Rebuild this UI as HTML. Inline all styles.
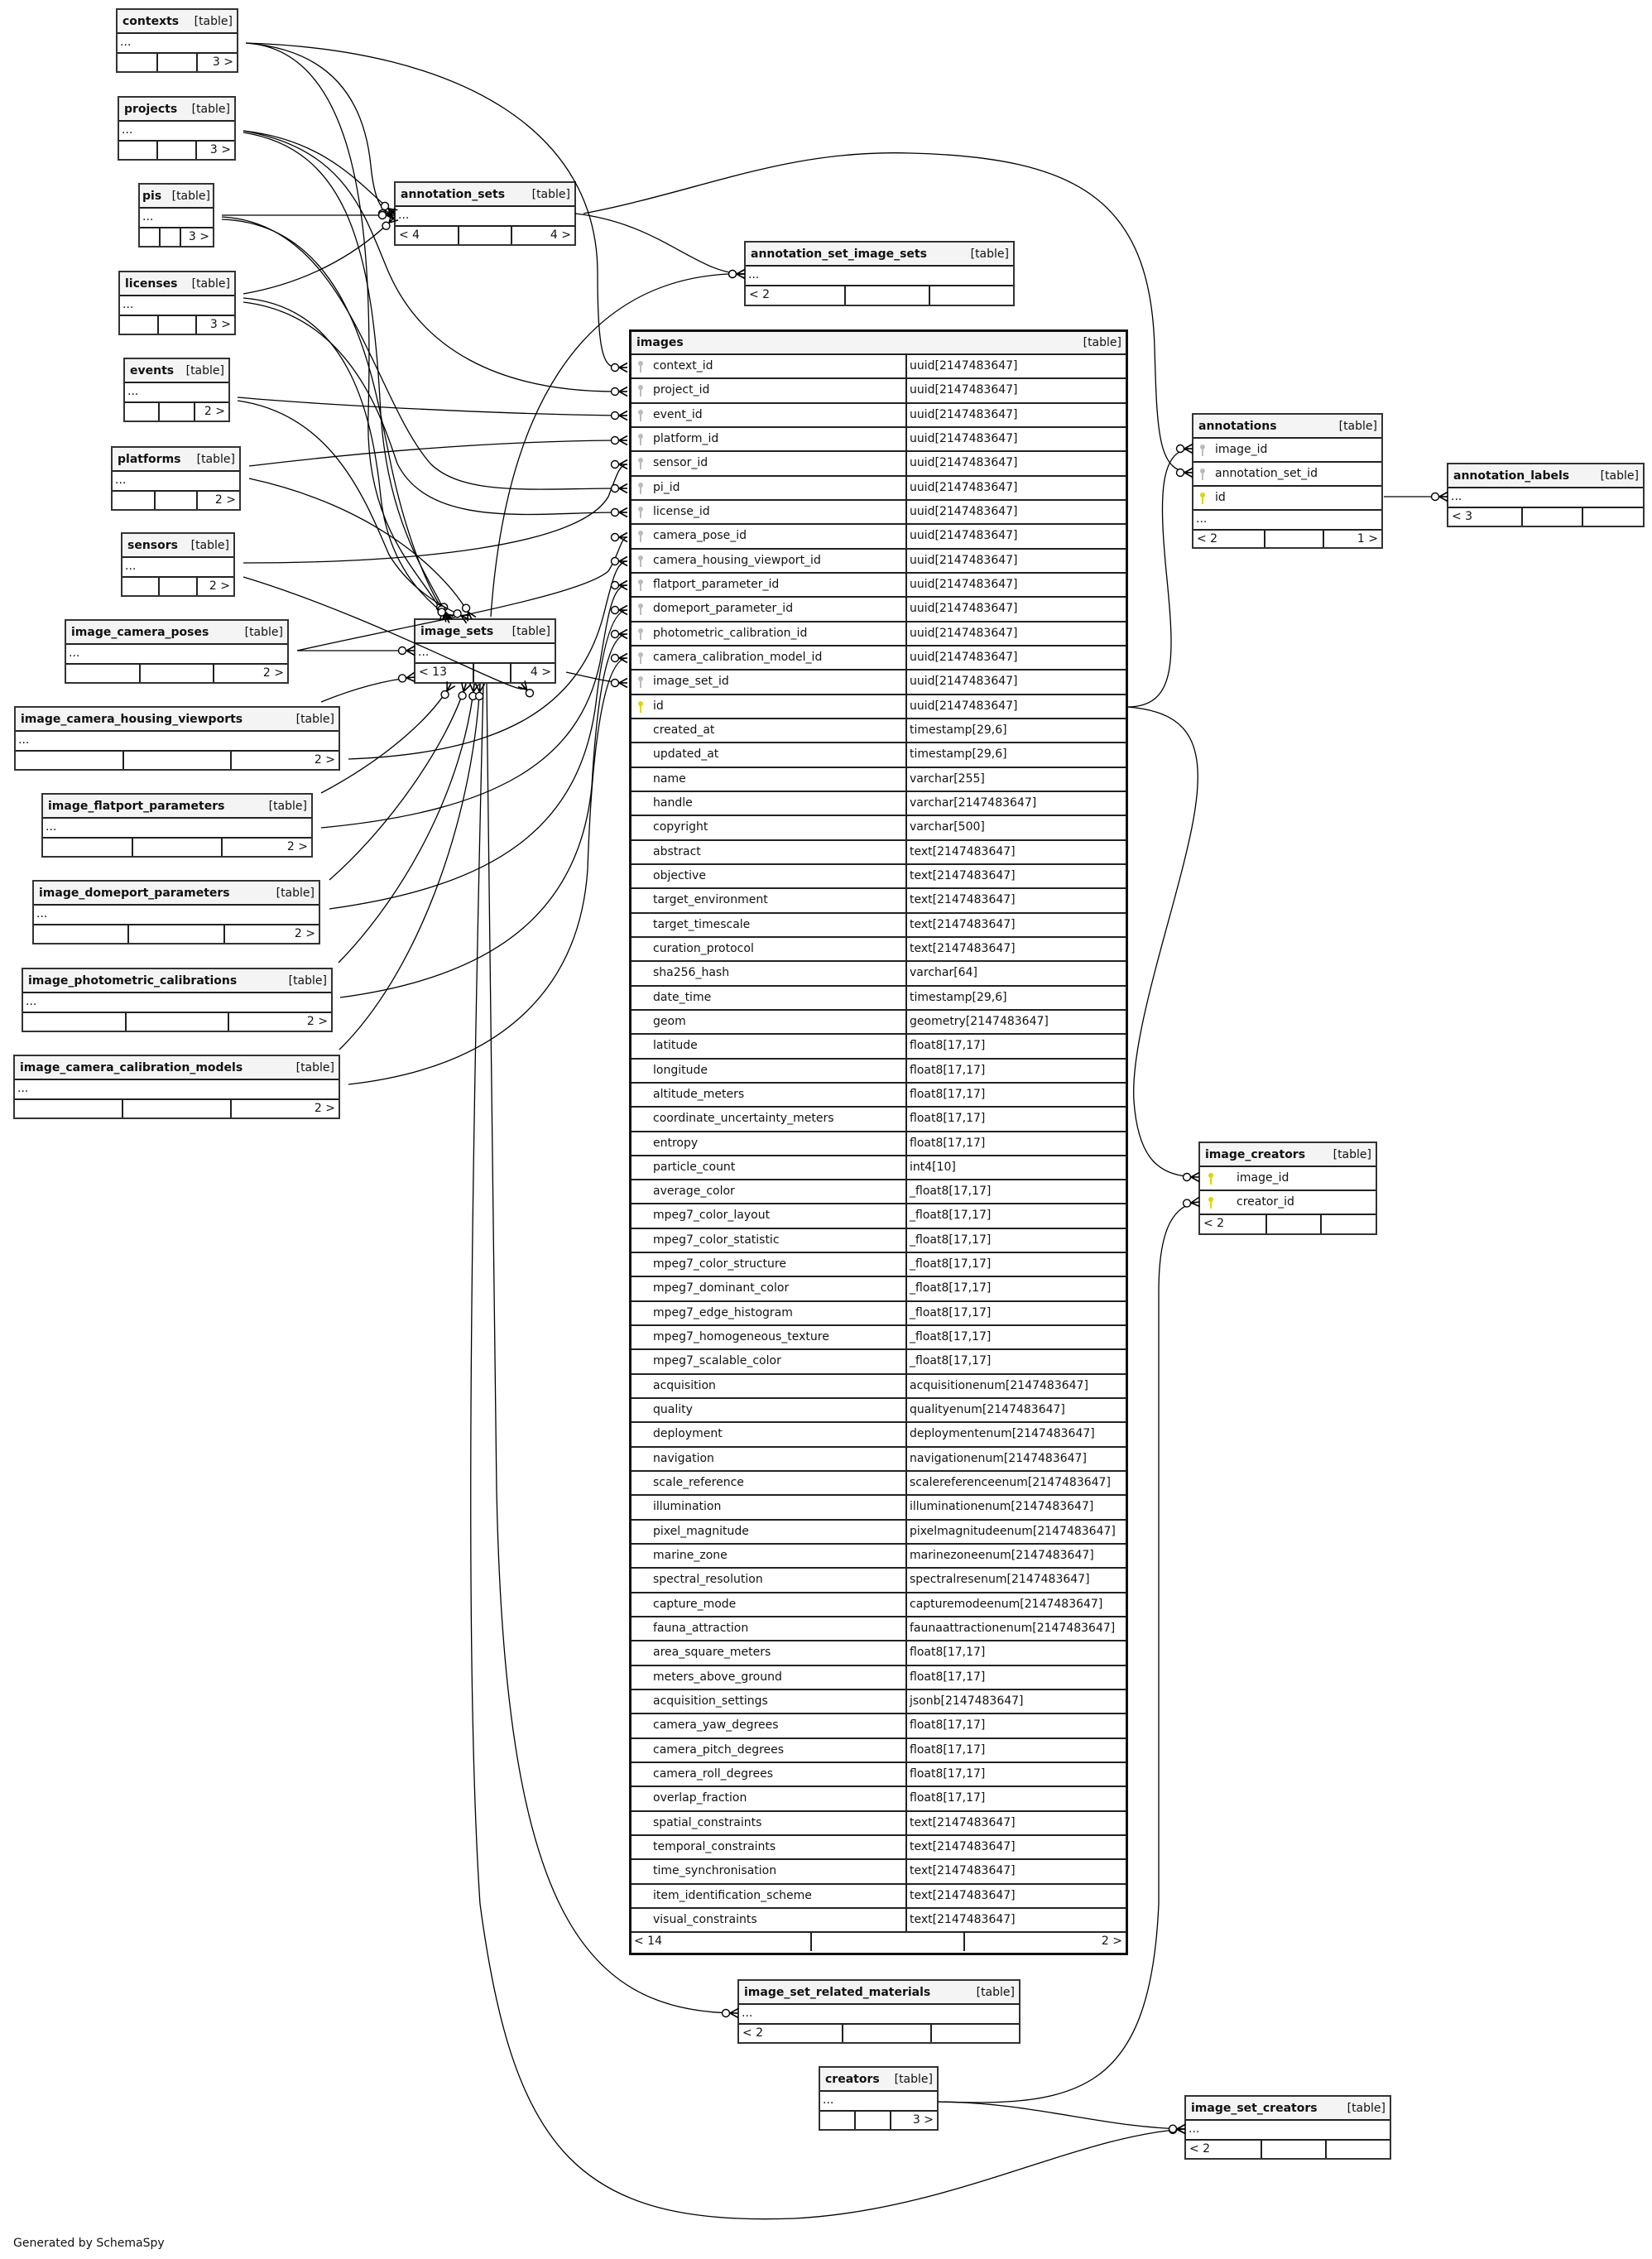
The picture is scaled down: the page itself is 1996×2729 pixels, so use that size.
<!DOCTYPE html>
<html><head><meta charset="utf-8"><style>
body{margin:0;width:1996px;height:2729px;position:relative;background:#fff;font-family:"DejaVu Sans","Liberation Sans",sans-serif;font-size:14px;color:#111;overflow:hidden}
.t{position:absolute;box-sizing:border-box;border:2px solid #333;background:#fff;display:flex;flex-direction:column}
.h{height:29px;flex:none;box-sizing:border-box;border-bottom:2px solid #222;background:#f4f4f4;display:flex;justify-content:space-between;align-items:center;padding:0 5px 0 6px;white-space:nowrap}
.h b{font-weight:bold}
.r{height:24px;flex:none;box-sizing:border-box;border-bottom:2px solid #222;padding-left:3px;line-height:20px;white-space:nowrap;position:relative}
.f{flex:1;display:flex}
.f>div{flex:1;border-left:2px solid #222;padding:0 4px;line-height:20px;white-space:nowrap}
.f>div:first-child{border-left:0}
.f>div.rt{text-align:right}
.img{position:absolute;left:760px;top:398px;width:603px;height:1964px;box-sizing:border-box;border:3px solid #111;background:#fff}
.img .h{height:28px}
.ir{height:29.33px;box-sizing:border-box;border-bottom:2px solid #222;display:flex;line-height:26px;white-space:nowrap}
.ir .n{width:333px;box-sizing:border-box;border-right:2px solid #222;padding-left:26px;position:relative}
.ir .ty{padding-left:3px}
.k{position:absolute;left:8px;top:7px;width:6px;height:14px}
.k:before{content:"";position:absolute;left:0;top:0;width:6px;height:6px;border-radius:50%;background:currentColor}
.k:after{content:"";position:absolute;left:2px;top:4px;width:2px;height:10px;background:currentColor}
.g{color:#bbb}.y{color:#e2d400}
svg{position:absolute;left:0;top:0}
</style></head><body>

<div class="t" style="left:140px;top:10px;width:148px;height:78px"><div class="h"><b>contexts</b><span>[table]</span></div><div class="r">...</div><div class="f"><div></div><div></div><div class="rt">3 &gt;</div></div></div>
<div class="t" style="left:142px;top:116px;width:143px;height:78px"><div class="h"><b>projects</b><span>[table]</span></div><div class="r">...</div><div class="f"><div></div><div></div><div class="rt">3 &gt;</div></div></div>
<div class="t" style="left:167px;top:221px;width:92px;height:78px"><div class="h" style="padding:0 3px"><b>pis</b><span>[table]</span></div><div class="r">...</div><div class="f"><div style="flex:.5"></div><div style="flex:.5"></div><div class="rt">3 &gt;</div></div></div>
<div class="t" style="left:143px;top:327px;width:142px;height:78px"><div class="h"><b>licenses</b><span>[table]</span></div><div class="r">...</div><div class="f"><div></div><div></div><div class="rt">3 &gt;</div></div></div>
<div class="t" style="left:149px;top:432px;width:129px;height:78px"><div class="h"><b>events</b><span>[table]</span></div><div class="r">...</div><div class="f"><div></div><div></div><div class="rt">2 &gt;</div></div></div>
<div class="t" style="left:134px;top:539px;width:157px;height:78px"><div class="h"><b>platforms</b><span>[table]</span></div><div class="r">...</div><div class="f"><div></div><div></div><div class="rt">2 &gt;</div></div></div>
<div class="t" style="left:146px;top:643px;width:138px;height:78px"><div class="h"><b>sensors</b><span>[table]</span></div><div class="r">...</div><div class="f"><div></div><div></div><div class="rt">2 &gt;</div></div></div>
<div class="t" style="left:78px;top:748px;width:271px;height:78px"><div class="h"><b>image_camera_poses</b><span>[table]</span></div><div class="r">...</div><div class="f"><div></div><div></div><div class="rt">2 &gt;</div></div></div>
<div class="t" style="left:17px;top:853px;width:394px;height:78px"><div class="h"><b>image_camera_housing_viewports</b><span>[table]</span></div><div class="r">...</div><div class="f"><div></div><div></div><div class="rt">2 &gt;</div></div></div>
<div class="t" style="left:50px;top:958px;width:328px;height:78px"><div class="h"><b>image_flatport_parameters</b><span>[table]</span></div><div class="r">...</div><div class="f"><div></div><div></div><div class="rt">2 &gt;</div></div></div>
<div class="t" style="left:39px;top:1063px;width:348px;height:78px"><div class="h"><b>image_domeport_parameters</b><span>[table]</span></div><div class="r">...</div><div class="f"><div></div><div></div><div class="rt">2 &gt;</div></div></div>
<div class="t" style="left:26px;top:1169px;width:376px;height:78px"><div class="h"><b>image_photometric_calibrations</b><span>[table]</span></div><div class="r">...</div><div class="f"><div></div><div></div><div class="rt">2 &gt;</div></div></div>
<div class="t" style="left:16px;top:1274px;width:395px;height:78px"><div class="h"><b>image_camera_calibration_models</b><span>[table]</span></div><div class="r">...</div><div class="f"><div></div><div></div><div class="rt">2 &gt;</div></div></div>

<div class="t" style="left:476px;top:219px;width:220px;height:78px"><div class="h"><b>annotation_sets</b><span>[table]</span></div><div class="r">...</div><div class="f"><div>&lt; 4</div><div style="flex:.8"></div><div class="rt">4 &gt;</div></div></div>
<div class="t" style="left:500px;top:747px;width:172px;height:79px"><div class="h"><b>image_sets</b><span>[table]</span></div><div class="r">...</div><div class="f"><div style="flex:1.4">&lt; 13</div><div style="flex:.8"></div><div class="rt">4 &gt;</div></div></div>
<div class="t" style="left:899px;top:291px;width:327px;height:79px"><div class="h"><b>annotation_set_image_sets</b><span>[table]</span></div><div class="r">...</div><div class="f"><div style="flex:1.2">&lt; 2</div><div></div><div></div></div></div>
<div class="t" style="left:891px;top:2391px;width:342px;height:78px"><div class="h"><b>image_set_related_materials</b><span>[table]</span></div><div class="r">...</div><div class="f"><div style="flex:1.2">&lt; 2</div><div></div><div></div></div></div>
<div class="t" style="left:989px;top:2496px;width:145px;height:78px"><div class="h"><b>creators</b><span>[table]</span></div><div class="r">...</div><div class="f"><div></div><div></div><div class="rt" style="flex:1.4">3 &gt;</div></div></div>
<div class="t" style="left:1431px;top:2531px;width:250px;height:78px"><div class="h"><b>image_set_creators</b><span>[table]</span></div><div class="r">...</div><div class="f"><div style="flex:1.2">&lt; 2</div><div></div><div></div></div></div>
<div class="t" style="left:1748px;top:559px;width:239px;height:78px"><div class="h"><b>annotation_labels</b><span>[table]</span></div><div class="r">...</div><div class="f"><div style="flex:1.25">&lt; 3</div><div></div><div></div></div></div>

<div class="t" style="left:1440px;top:499px;width:231px;height:164px"><div class="h"><b>annotations</b><span>[table]</span></div>
<div class="r" style="height:29px;line-height:26px;padding-left:26px"><span class="k g" style="left:8px"></span>image_id</div>
<div class="r" style="height:29px;line-height:26px;padding-left:26px"><span class="k g" style="left:8px"></span>annotation_set_id</div>
<div class="r" style="height:29px;line-height:26px;padding-left:26px"><span class="k y" style="left:8px"></span>id</div>
<div class="r">...</div><div class="f"><div style="flex:1.25">&lt; 2</div><div></div><div class="rt">1 &gt;</div></div></div>

<div class="t" style="left:1448px;top:1379px;width:216px;height:113px"><div class="h"><b>image_creators</b><span>[table]</span></div>
<div class="r" style="height:29px;line-height:26px;padding-left:44px"><span class="k y" style="left:10px"></span>image_id</div>
<div class="r" style="height:29px;line-height:26px;padding-left:44px"><span class="k y" style="left:10px"></span>creator_id</div>
<div class="f"><div style="flex:1.25">&lt; 2</div><div></div><div></div></div></div>

<div class="img"><div class="h"><b>images</b><span>[table]</span></div>
<div class="ir"><div class="n"><span class="k g"></span>context_id</div><div class="ty">uuid[2147483647]</div></div>
<div class="ir"><div class="n"><span class="k g"></span>project_id</div><div class="ty">uuid[2147483647]</div></div>
<div class="ir"><div class="n"><span class="k g"></span>event_id</div><div class="ty">uuid[2147483647]</div></div>
<div class="ir"><div class="n"><span class="k g"></span>platform_id</div><div class="ty">uuid[2147483647]</div></div>
<div class="ir"><div class="n"><span class="k g"></span>sensor_id</div><div class="ty">uuid[2147483647]</div></div>
<div class="ir"><div class="n"><span class="k g"></span>pi_id</div><div class="ty">uuid[2147483647]</div></div>
<div class="ir"><div class="n"><span class="k g"></span>license_id</div><div class="ty">uuid[2147483647]</div></div>
<div class="ir"><div class="n"><span class="k g"></span>camera_pose_id</div><div class="ty">uuid[2147483647]</div></div>
<div class="ir"><div class="n"><span class="k g"></span>camera_housing_viewport_id</div><div class="ty">uuid[2147483647]</div></div>
<div class="ir"><div class="n"><span class="k g"></span>flatport_parameter_id</div><div class="ty">uuid[2147483647]</div></div>
<div class="ir"><div class="n"><span class="k g"></span>domeport_parameter_id</div><div class="ty">uuid[2147483647]</div></div>
<div class="ir"><div class="n"><span class="k g"></span>photometric_calibration_id</div><div class="ty">uuid[2147483647]</div></div>
<div class="ir"><div class="n"><span class="k g"></span>camera_calibration_model_id</div><div class="ty">uuid[2147483647]</div></div>
<div class="ir"><div class="n"><span class="k g"></span>image_set_id</div><div class="ty">uuid[2147483647]</div></div>
<div class="ir"><div class="n"><span class="k y"></span>id</div><div class="ty">uuid[2147483647]</div></div>
<div class="ir"><div class="n">created_at</div><div class="ty">timestamp[29,6]</div></div>
<div class="ir"><div class="n">updated_at</div><div class="ty">timestamp[29,6]</div></div>
<div class="ir"><div class="n">name</div><div class="ty">varchar[255]</div></div>
<div class="ir"><div class="n">handle</div><div class="ty">varchar[2147483647]</div></div>
<div class="ir"><div class="n">copyright</div><div class="ty">varchar[500]</div></div>
<div class="ir"><div class="n">abstract</div><div class="ty">text[2147483647]</div></div>
<div class="ir"><div class="n">objective</div><div class="ty">text[2147483647]</div></div>
<div class="ir"><div class="n">target_environment</div><div class="ty">text[2147483647]</div></div>
<div class="ir"><div class="n">target_timescale</div><div class="ty">text[2147483647]</div></div>
<div class="ir"><div class="n">curation_protocol</div><div class="ty">text[2147483647]</div></div>
<div class="ir"><div class="n">sha256_hash</div><div class="ty">varchar[64]</div></div>
<div class="ir"><div class="n">date_time</div><div class="ty">timestamp[29,6]</div></div>
<div class="ir"><div class="n">geom</div><div class="ty">geometry[2147483647]</div></div>
<div class="ir"><div class="n">latitude</div><div class="ty">float8[17,17]</div></div>
<div class="ir"><div class="n">longitude</div><div class="ty">float8[17,17]</div></div>
<div class="ir"><div class="n">altitude_meters</div><div class="ty">float8[17,17]</div></div>
<div class="ir"><div class="n">coordinate_uncertainty_meters</div><div class="ty">float8[17,17]</div></div>
<div class="ir"><div class="n">entropy</div><div class="ty">float8[17,17]</div></div>
<div class="ir"><div class="n">particle_count</div><div class="ty">int4[10]</div></div>
<div class="ir"><div class="n">average_color</div><div class="ty">_float8[17,17]</div></div>
<div class="ir"><div class="n">mpeg7_color_layout</div><div class="ty">_float8[17,17]</div></div>
<div class="ir"><div class="n">mpeg7_color_statistic</div><div class="ty">_float8[17,17]</div></div>
<div class="ir"><div class="n">mpeg7_color_structure</div><div class="ty">_float8[17,17]</div></div>
<div class="ir"><div class="n">mpeg7_dominant_color</div><div class="ty">_float8[17,17]</div></div>
<div class="ir"><div class="n">mpeg7_edge_histogram</div><div class="ty">_float8[17,17]</div></div>
<div class="ir"><div class="n">mpeg7_homogeneous_texture</div><div class="ty">_float8[17,17]</div></div>
<div class="ir"><div class="n">mpeg7_scalable_color</div><div class="ty">_float8[17,17]</div></div>
<div class="ir"><div class="n">acquisition</div><div class="ty">acquisitionenum[2147483647]</div></div>
<div class="ir"><div class="n">quality</div><div class="ty">qualityenum[2147483647]</div></div>
<div class="ir"><div class="n">deployment</div><div class="ty">deploymentenum[2147483647]</div></div>
<div class="ir"><div class="n">navigation</div><div class="ty">navigationenum[2147483647]</div></div>
<div class="ir"><div class="n">scale_reference</div><div class="ty">scalereferenceenum[2147483647]</div></div>
<div class="ir"><div class="n">illumination</div><div class="ty">illuminationenum[2147483647]</div></div>
<div class="ir"><div class="n">pixel_magnitude</div><div class="ty">pixelmagnitudeenum[2147483647]</div></div>
<div class="ir"><div class="n">marine_zone</div><div class="ty">marinezoneenum[2147483647]</div></div>
<div class="ir"><div class="n">spectral_resolution</div><div class="ty">spectralresenum[2147483647]</div></div>
<div class="ir"><div class="n">capture_mode</div><div class="ty">capturemodeenum[2147483647]</div></div>
<div class="ir"><div class="n">fauna_attraction</div><div class="ty">faunaattractionenum[2147483647]</div></div>
<div class="ir"><div class="n">area_square_meters</div><div class="ty">float8[17,17]</div></div>
<div class="ir"><div class="n">meters_above_ground</div><div class="ty">float8[17,17]</div></div>
<div class="ir"><div class="n">acquisition_settings</div><div class="ty">jsonb[2147483647]</div></div>
<div class="ir"><div class="n">camera_yaw_degrees</div><div class="ty">float8[17,17]</div></div>
<div class="ir"><div class="n">camera_pitch_degrees</div><div class="ty">float8[17,17]</div></div>
<div class="ir"><div class="n">camera_roll_degrees</div><div class="ty">float8[17,17]</div></div>
<div class="ir"><div class="n">overlap_fraction</div><div class="ty">float8[17,17]</div></div>
<div class="ir"><div class="n">spatial_constraints</div><div class="ty">text[2147483647]</div></div>
<div class="ir"><div class="n">temporal_constraints</div><div class="ty">text[2147483647]</div></div>
<div class="ir"><div class="n">time_synchronisation</div><div class="ty">text[2147483647]</div></div>
<div class="ir"><div class="n">item_identification_scheme</div><div class="ty">text[2147483647]</div></div>
<div class="ir"><div class="n">visual_constraints</div><div class="ty">text[2147483647]</div></div>
<div style="display:flex;height:22px;line-height:20px"><div style="width:213px;border-right:2px solid #222;padding-left:3px">&lt; 14</div><div style="width:183px;border-right:2px solid #222"></div><div style="flex:1;text-align:right;padding-right:4px">2 &gt;</div></div>
</div>

<div style="position:absolute;left:16px;top:2702px;font-size:14px">Generated by SchemaSpy</div>

<svg width="1996" height="2729" viewBox="0 0 1996 2729">
<defs>
<marker id="m" markerUnits="userSpaceOnUse" markerWidth="26" markerHeight="18" refX="22" refY="9" orient="auto">
<circle cx="7" cy="9" r="4.5" fill="#fff" stroke="#000" stroke-width="1.4"/>
<path d="M12,9 L22,3.5 M12,9 L22,9 M12,9 L22,14.5" stroke="#000" stroke-width="1.6" fill="none"/>
</marker>
</defs>
<g fill="none" stroke="#000" stroke-width="1.3" marker-end="url(#m)">
<path d="M297,52 C560,60 722,160 722,330 C722,420 728,444 745,444 L758,444"/>
<path d="M294,158 C420,180 440,260 470,330 C510,420 600,473 745,473 L758,473"/>
<path d="M287,480 C400,490 600,500 745,502 L758,502"/>
<path d="M301,563 C450,545 600,533 745,532 L758,532"/>
<path d="M294,680 C500,680 700,660 735,600 C745,575 748,561 758,561"/>
<path d="M268,262 C420,270 450,480 520,560 C560,600 650,590 745,590 L758,590"/>
<path d="M294,365 C420,380 460,500 480,560 C520,640 650,619 745,619 L758,619"/>
<path d="M359,786 C520,750 700,720 735,690 C748,670 750,649 758,649"/>
<path d="M421,917 C600,910 700,860 730,740 C740,700 745,678 758,678"/>
<path d="M388,1000 C600,980 700,920 725,800 C735,740 740,707 758,707"/>
<path d="M398,1098 C600,1070 700,1000 720,850 C728,780 740,737 758,737"/>
<path d="M411,1205 C600,1180 700,1100 715,950 C722,830 735,766 758,766"/>
<path d="M421,1310 C600,1290 700,1200 710,1050 C715,900 730,795 758,795"/>
<path d="M684,812 C720,820 740,825 758,825"/>
<path d="M297,52 C400,60 440,120 448,200 C452,240 460,258 477,258"/>
<path d="M294,158 C400,170 440,230 477,258"/>
<path d="M268,260 L477,260"/>
<path d="M294,355 C380,340 440,300 477,262"/>
<path d="M297,52 C440,60 450,300 445,500 C440,650 520,700 537,748"/>
<path d="M294,160 C420,180 450,300 460,500 C470,650 530,710 540,748"/>
<path d="M268,265 C420,270 450,450 470,550 C490,650 520,720 543,748"/>
<path d="M294,360 C420,370 450,500 460,600 C470,690 520,730 546,748"/>
<path d="M287,484 C400,500 440,600 470,670 C500,720 550,740 566,748"/>
<path d="M301,578 C450,610 540,690 570,748"/>
<path d="M294,697 C470,750 660,860 630,826"/>
<path d="M359,786 L501,786"/>
<path d="M388,848 C420,835 460,822 501,818"/>
<path d="M388,958 C460,920 520,870 545,826"/>
<path d="M398,1063 C470,1000 540,900 563,826"/>
<path d="M409,1163 C490,1080 560,950 573,826"/>
<path d="M410,1268 C500,1180 570,1000 580,826"/>
<path d="M593,745 C610,500 700,340 880,331 L900,331"/>
<path d="M588,826 L600,1800 C610,2300 700,2432 892,2432"/>
<path d="M584,826 C570,1400 560,2000 580,2300 C620,2600 700,2690 960,2680 C1150,2670 1300,2580 1432,2572"/>
<path d="M695,258 C800,270 840,331 900,331"/>
<path d="M705,258 C850,230 950,180 1100,185 C1300,190 1390,240 1395,420 C1398,530 1400,571 1441,571"/>
<path d="M1362,854 C1420,854 1420,800 1410,700 C1400,600 1400,542 1441,542"/>
<path d="M1362,854 C1440,860 1460,900 1440,1000 C1420,1100 1365,1250 1370,1330 C1375,1400 1400,1422 1449,1422"/>
<path d="M1672,600 L1749,600"/>
<path d="M1133,2539 C1300,2545 1390,2530 1400,2300 L1400,1560 C1400,1480 1420,1455 1449,1452"/>
<path d="M1133,2539 C1250,2540 1330,2570 1432,2572"/>
</g>
</svg>
</body></html>
